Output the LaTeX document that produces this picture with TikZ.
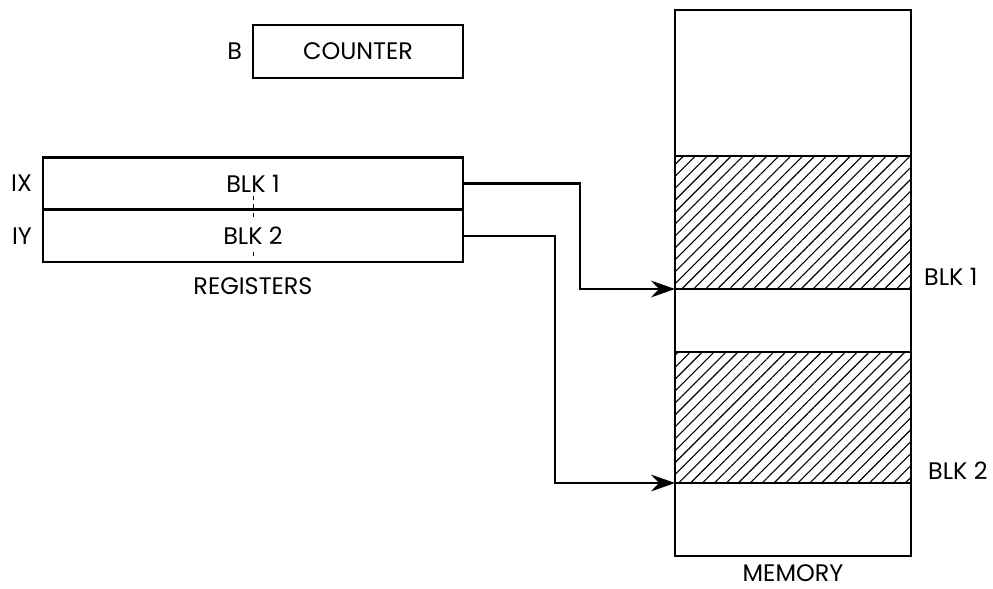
\documentclass[tikz,border=0pt]{standalone}
\usepackage{fontspec}
\setmainfont{Poppins}
\usetikzlibrary{arrows.meta, positioning, calc, patterns.meta}
\tikzset{
  cntBox/.style = {rectangle, draw, line width=1.8pt, minimum width=5.25cm,
    minimum height=1.325cm, inner sep=0pt, outer sep=0pt, font=\fontsize{17}{20}\selectfont},
  regBox/.style = {rectangle, draw, line width=1.8pt, minimum width=10.5cm,
    minimum height=1.31cm, inner sep=0pt, outer sep=0pt, font=\fontsize{17}{20}\selectfont},
  memCell/.style = {rectangle, draw, line width=1.8pt, minimum width=5.9cm,
    inner sep=0pt, outer sep=0pt},
  memHatch/.style = {memCell, pattern={Lines[angle=45, distance=6pt, line width=0.8pt]}},
  lbl/.style = {font=\fontsize{17}{20}\selectfont, inner sep=2pt},
  ptr/.style = {-{Stealth[length=6mm, width=4.2mm, inset=2mm]}, line width=1.8pt},
}
\begin{document}
\begin{tikzpicture}
\useasboundingbox (0,0) rectangle (24.825,-14.725);

% counter
\node[cntBox] (cnt) at (8.95,-1.2875) {COUNTER};
\node[lbl, left=0.2cm of cnt] (cntB) {B};

% registers
\node[regBox] (ix) at (6.325,-4.5875) {BLK 1};
\node[regBox, below=0pt of ix] (iy) {BLK 2};
\node[lbl, left=0.2cm of ix] (ixl) {IX};
\node[lbl, left=0.2cm of iy] (iyl) {IY};
\node[lbl, below=0.3cm of iy] (regl) {REGISTERS};
\draw[dashed, line width=0.6pt] ($(ix.south)+(0,0.35)$) -- ($(ix.south)+(0,-0.2)$);
\draw[dashed, line width=0.6pt] ($(iy.south)+(0,0.25)$) -- (iy.south);

% memory
\node[memCell, minimum height=3.65cm] (memTop) at (19.825,-2.075) {};
\node[memHatch, minimum height=3.325cm, below=0pt of memTop] (blk1) {};
\node[memCell, minimum height=1.575cm, below=0pt of blk1] (memGap) {};
\node[memHatch, minimum height=3.275cm, below=0pt of memGap] (blk2) {};
\node[memCell, minimum height=1.825cm, below=0pt of blk2] (memBot) {};
\node[lbl, anchor=south west, xshift=0.25cm] (blk1l) at (blk1.south east) {BLK 1};
\node[lbl, anchor=south west, xshift=0.35cm] (blk2l) at (blk2.south east) {BLK 2};
\node[lbl, below=0.15cm of memBot] (meml) {MEMORY};

% pointers
\draw[ptr] (ix.east) -- ++(2.925,0) |- (blk1.south west);
\draw[ptr] (iy.east) -- ++(2.3,0) |- (blk2.south west);

\end{tikzpicture}
\end{document}
